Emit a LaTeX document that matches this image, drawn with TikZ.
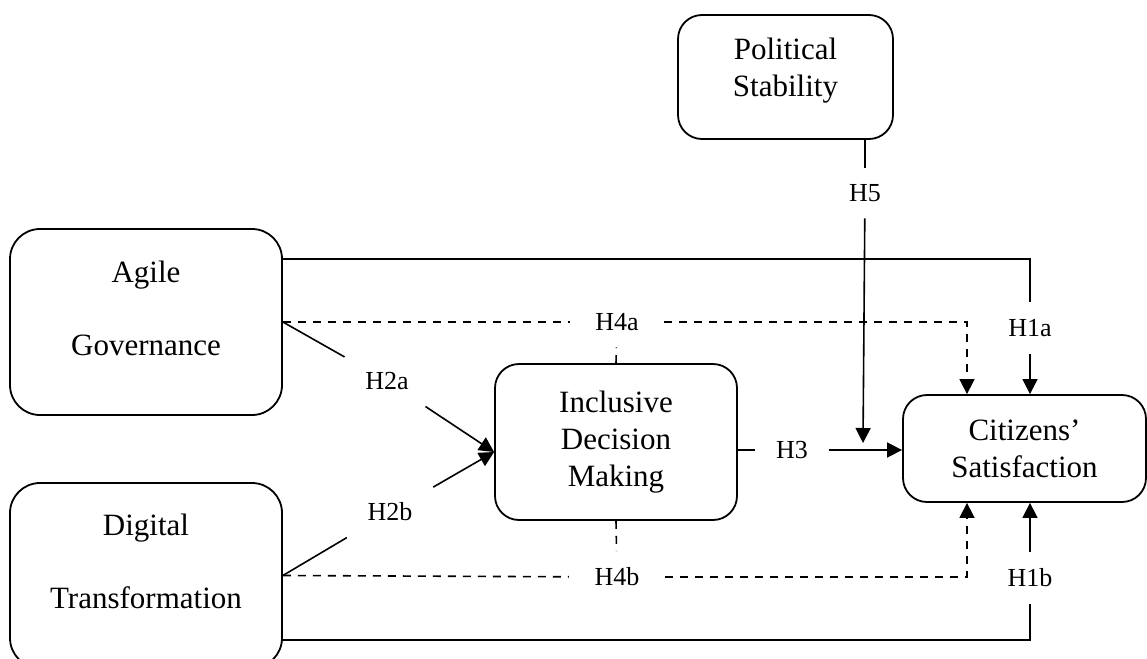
\documentclass[tikz,border=0pt]{standalone}
\usepackage{fontspec}
\setmainfont{Liberation Serif}
\usepackage{tikz}
\usetikzlibrary{arrows.meta}

\tikzset{
  construct/.style={draw,line width=0.9pt,rounded corners=12pt,align=center,font=\fontsize{15.5}{18.5}\selectfont},
  boxtext/.style={align=center,font=\fontsize{15.5}{18.5}\selectfont},
  hyp/.style={inner xsep=10pt,inner ysep=8pt,font=\fontsize{13}{15}\selectfont},
  arr/.style={-{Triangle[length=7.5pt,width=7.5pt]}},
  dashline/.style={dash pattern=on 4pt off 3.5pt}
}

\begin{document}
\begin{tikzpicture}[x=0.5pt,y=-0.5pt,line width=0.8pt]
    \useasboundingbox (0,0) rectangle (1147,659);
    \clip (0,0) rectangle (1147,659);
    \node[construct,minimum width=107.5pt,minimum height=62pt,label={[boxtext,yshift=3.25pt]center:{Political\\Stability}}] (pol) at (785.5,77) {};
    \node[construct,rounded corners=15pt,minimum width=136pt,minimum height=93pt,label={[boxtext,yshift=6.75pt]center:{Agile\\[18pt]Governance}}] (agile) at (146,322) {};
    \node[construct,rounded corners=15pt,minimum width=136pt,minimum height=92.5pt,label={[boxtext,yshift=7.25pt]center:{Digital\\[18pt]Transformation}}] (digital) at (146,575.5) {};
    \node[construct,minimum width=121pt,minimum height=78pt] (idm) at (616,442) {Inclusive\\Decision\\Making};
    \node[construct,minimum width=121.5pt,minimum height=53.5pt] (cit) at (1024.5,448.5) {Citizens’\\Satisfaction};
    \node[hyp] (h1a) at (1030,328) {H1a};
    \node[hyp] (h1b) at (1030,578) {H1b};
    \node[hyp] (h2a) at (387,381) {H2a};
    \node[hyp] (h2b) at (390,512) {H2b};
    \node[hyp] (h3) at (792,450) {H3};
    \node[hyp,inner xsep=12.5pt] (h4a) at (617,322) {H4a};
    \node[hyp,inner xsep=12.5pt] (h4b) at (617,577) {H4b};
    \node[hyp] (h5) at (865,193) {H5};
    \coordinate (h5end) at (863,443);
    \draw ([yshift=31.5pt]agile.east) -| (h1a.north);
    \draw[arr] (h1a.south) -- (h1a.south |- cit.north);
    \draw ([yshift=-32.25pt]digital.east) -| (h1b.south);
    \draw[arr] (h1b.north) -- (h1b.north |- cit.south);
    \draw[dashline] (agile.east) -- (h4a);
    \draw[dashline,arr] (h4a) -| ([xshift=-28.75pt]cit.north);
    \draw[dashline] (digital.east) -- (h4b);
    \draw[dashline,arr] (h4b) -| ([xshift=-28.75pt]cit.south);
    \draw[dashline] (idm.north) -- (h4a);
    \draw[dashline] (idm.south) -- (h4b);
    \draw (agile.east) -- (h2a);
    \draw[arr] (h2a) -- ([yshift=-5pt]idm.west);
    \draw (digital.east) -- (h2b);
    \draw[arr] (h2b) -- ([yshift=-5pt]idm.west);
    \draw ([yshift=-4pt]idm.east) -- (h3);
    \draw[arr] (h3) -- (h3 -| cit.west);
    \draw (pol.south -| h5) -- (h5);
    \draw[arr] (h5) -- (h5end);
\end{tikzpicture}
\end{document}
